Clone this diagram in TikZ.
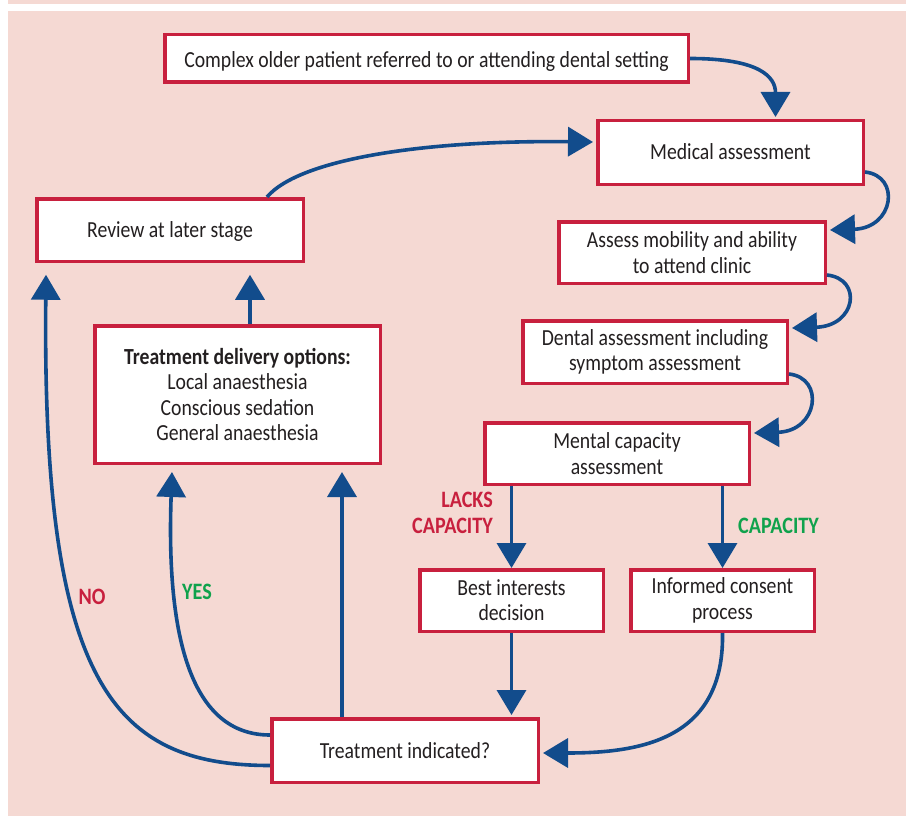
\documentclass[tikz,border=0pt]{standalone}
\usepackage{fontspec}
\setmainfont{Carlito}[FakeStretch=0.857]
\usetikzlibrary{arrows.meta}
\definecolor{bgpink}{RGB}{245,217,211}
\definecolor{boxred}{RGB}{200,32,62}
\definecolor{flowblue}{RGB}{18,76,140}
\definecolor{okgreen}{RGB}{16,162,76}
\definecolor{txt}{RGB}{35,31,32}
\begin{document}
\begin{tikzpicture}[x=1pt,y=-1pt,
  box/.style={draw=boxred, line width=3.5pt, fill=white, inner sep=0pt, align=center, text=txt, font=\fontsize{23}{25.3}\selectfont},
  oneline/.style={text height=15pt, text depth=0pt},
  flow/.style={draw=flowblue, line width=3.6pt, -{Triangle[length=25pt,width=29pt]}},
  lbl/.style={font=\fontsize{23.5}{26}\selectfont\bfseries, inner sep=0pt, align=right}]
\useasboundingbox (0,0) rectangle (906,816);
\fill[bgpink] (8,0) rectangle (906,4);
\fill[bgpink] (8,11) rectangle (906,816);

\node[box, text height=18pt, text depth=0pt, minimum width=523.5pt, minimum height=47.5pt] (b1) at (426.5,58.5) {Complex older patient referred to or attending dental setting};
\node[box, oneline, minimum width=265.5pt, minimum height=63.5pt] (b2) at (730.5,152.5) {Medical assessment};
\node[box, minimum width=266.5pt, minimum height=61.5pt] (b3) at (692,252.5) {Assess mobility and ability\\to attend clinic};
\node[box, minimum width=264.5pt, minimum height=62.5pt] (b4) at (655,352) {Dental assessment including\\symptom assessment};
\node[box, minimum width=264.5pt, minimum height=61.5pt] (b5) at (617,453.5) {Mental capacity\\assessment};
\node[box, minimum width=183.5pt, minimum height=61.5pt] (b6) at (511.5,600.5) {Best interests\\decision};
\node[box, minimum width=183.5pt, minimum height=61.5pt] (b7) at (722.5,600.5) {Informed consent\\process};
\node[box, oneline, minimum width=266.5pt, minimum height=63.5pt] (b8) at (405,750.5) {Treatment indicated?};
\node[box, oneline, minimum width=266.5pt, minimum height=62.5pt] (b9) at (170,230) {Review at later stage};
\node[box, minimum width=285.5pt, minimum height=137.5pt] (b10) at (237.5,394.5) {\textbf{Treatment delivery options:}\\Local anaesthesia\\Conscious sedation\\General anaesthesia};

% right-hand chain
\draw[flow] (b1.east) .. controls +(70,0) and +(0,-40) .. ([xshift=45pt,yshift=2pt]b2.north);
\draw[flow] ([yshift=-19.5pt]b2.east) .. controls +(36,4) and +(64,-2) .. ([yshift=22.5pt,xshift=3pt]b3.east);
\draw[flow] ([yshift=-22.5pt]b3.east) .. controls +(36,4) and +(64,-2) .. ([yshift=24pt,xshift=3pt]b4.east);
\draw[flow] ([yshift=-22pt]b4.east) .. controls +(36,4) and +(64,-2) .. ([yshift=20.5pt,xshift=3pt]b5.east);
\draw[flow] (b5.south -| b6) -- (b6.north);
\draw[flow] (b5.south -| b7) -- (b7.north);
\draw[flow] (b6.south) -- ([yshift=2pt]b8.north -| b6);
\draw[flow] (b7.south) .. controls +(2,107) and +(97,0) .. ([yshift=-2.5pt,xshift=3pt]b8.east);

% left-hand loop
\draw[flow] ([yshift=15.5pt]b8.west) .. controls +(-78,0) and +(-6,168) .. ([xshift=-65.5pt,yshift=-7pt]b10.south);
\draw[flow] ([xshift=-63pt]b8.north) -- ([xshift=104.5pt,yshift=-7pt]b10.south);
\draw[flow] ([yshift=-15pt]b8.west) .. controls +(-158,0) and +(-4,407) .. ([xshift=-124pt,yshift=-11.75pt]b9.south);
\draw[flow] ([xshift=12.5pt]b10.north) -- ([xshift=80pt,yshift=-11.75pt]b9.south);
\draw[flow] ([xshift=97pt]b9.north) .. controls +(33,-38.75) and +(-165,-2) .. ([yshift=10.5pt,xshift=-3pt]b2.west);

% labels
\node[lbl, text=boxred, anchor=east] (lacks) at (493,513) {LACKS\\CAPACITY};
\node[lbl, text=okgreen, anchor=west] (cap) at (738,526) {CAPACITY};
\node[lbl, text=boxred] (no) at (92,597) {NO};
\node[lbl, text=okgreen] (yes) at (197,592) {YES};
\end{tikzpicture}
\end{document}
